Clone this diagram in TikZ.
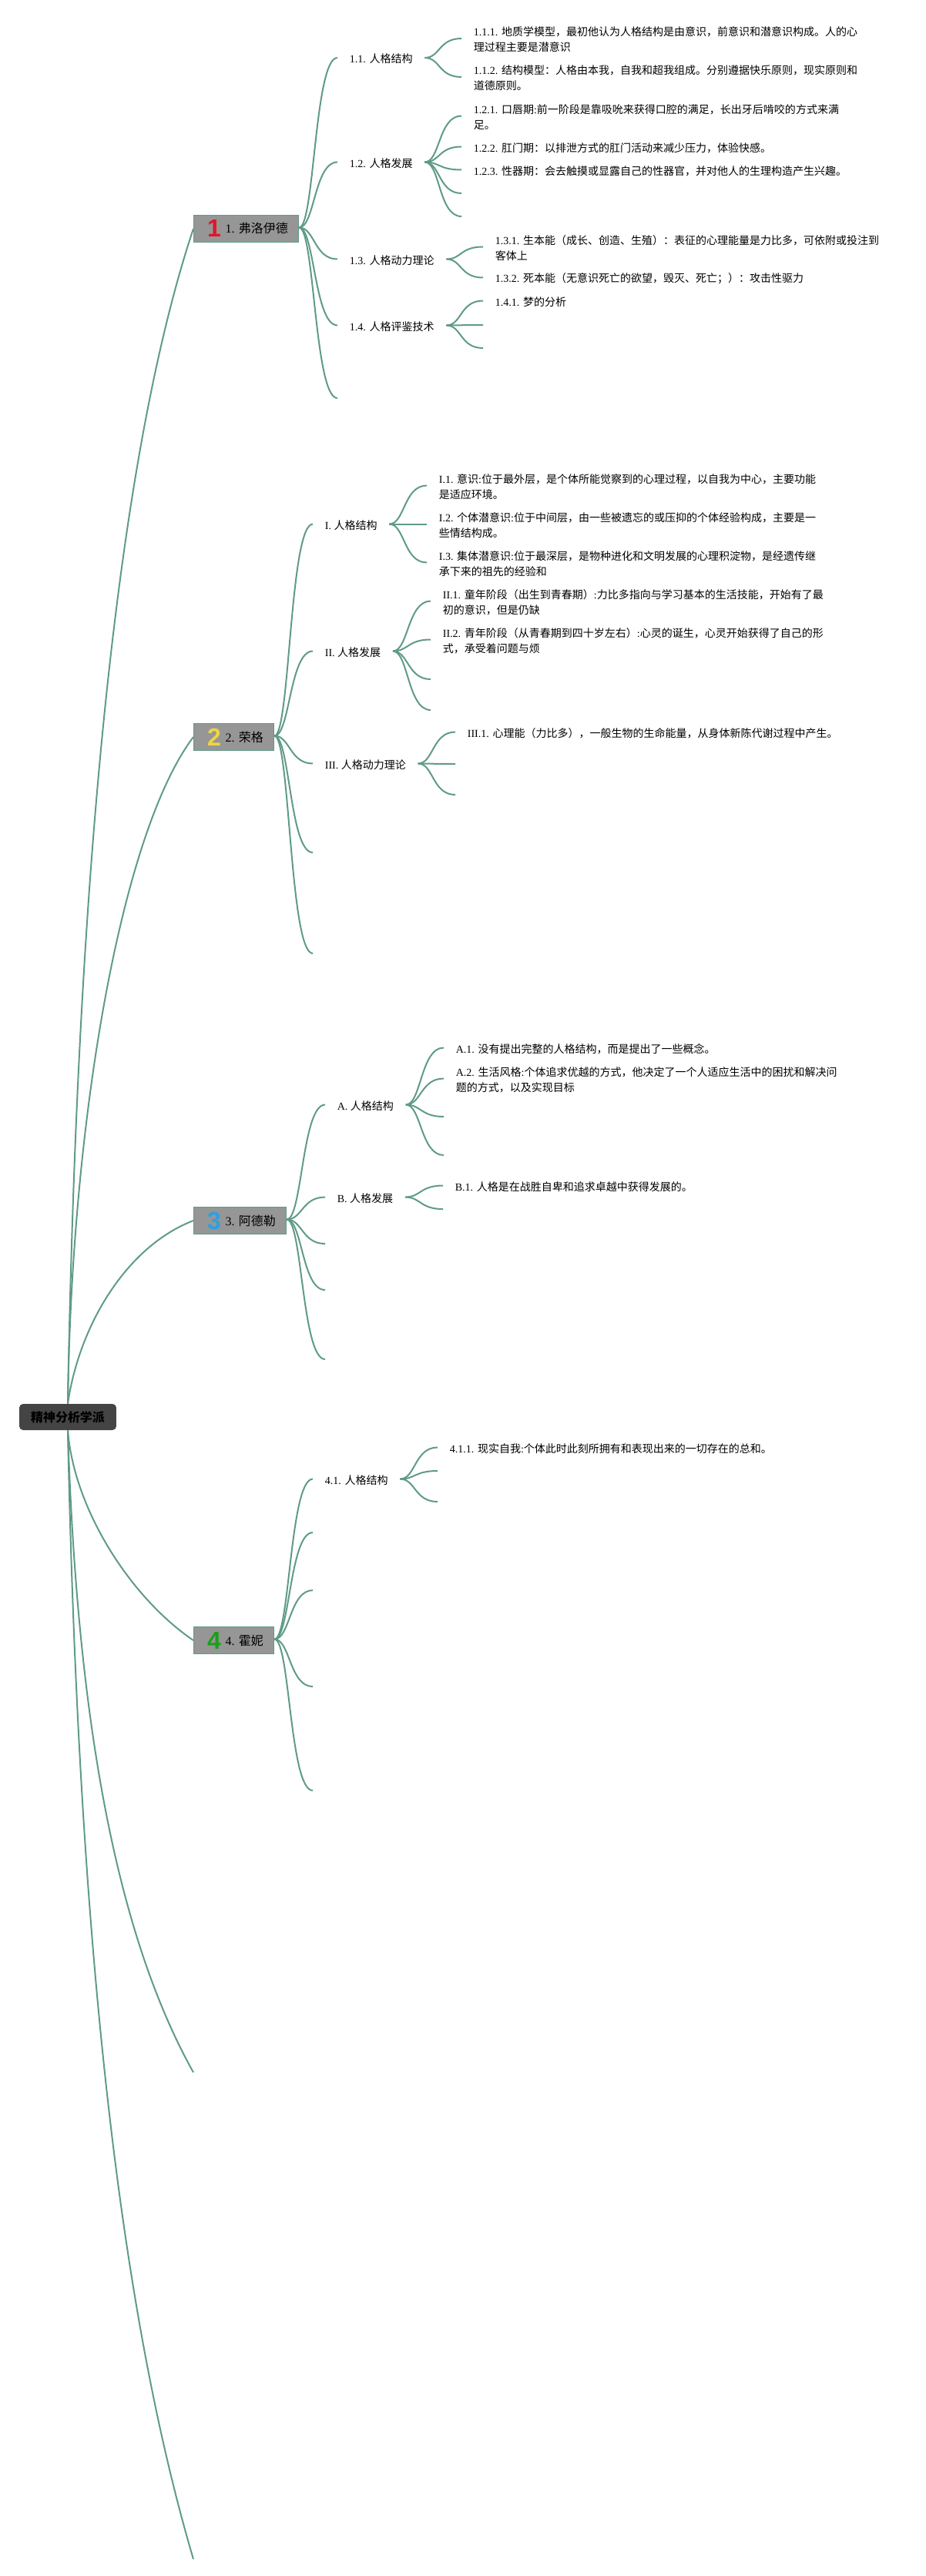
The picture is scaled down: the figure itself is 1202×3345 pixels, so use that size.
\documentclass[tikz,border=0pt]{standalone}
\usepackage{fontspec}
\usepackage{tikz}
\setmainfont{Liberation Serif}
\newfontfamily\cjk{Noto Sans CJK SC}
\newfontfamily\icofont{Liberation Sans}
\definecolor{linkgreen}{HTML}{5F9B87}
\definecolor{topicgray}{HTML}{969696}
\definecolor{rootgray}{HTML}{444444}
\definecolor{icored}{HTML}{E0162B}
\definecolor{icoyellow}{HTML}{EFD544}
\definecolor{icoblue}{HTML}{2BA0E6}
\definecolor{icogreen}{HTML}{1AA01A}
\tikzset{
  font={\fontsize{7.97pt}{11.4pt}\selectfont},
  linkline/.style={linkgreen,line width=.04cm},
  rootbox/.style={rectangle,rounded corners=.1cm,fill=rootgray,inner sep=0pt,minimum width=2.52cm,minimum height=.68cm,font={\fontsize{9.1pt}{12pt}\selectfont\bfseries}},
  topicbox/.style={rectangle,draw=linkgreen,fill=topicgray,line width=.6pt,anchor=west,inner xsep=.28cm,inner ysep=0pt,minimum height=.7cm,font={\fontsize{9.1pt}{12pt}\selectfont}},
  branchtext/.style={anchor=west,inner xsep=.31cm,inner ysep=0pt,align=left}}
\newcommand{\zh}[1]{{\cjk #1}}
\newcommand{\ico}[2]{\hspace{.08cm}\makebox[.34cm][c]{\raisebox{-.1cm}{\icofont\bfseries\fontsize{18.2pt}{18.2pt}\selectfont\textcolor{#1}{#2}}}\hspace{.12cm}}
\newcommand{\link}[2]{\draw [linkline] ([yshift=.03cm]#1.east) .. controls +(20,0) and +(-30,0) .. ([yshift=.03cm]#2.west);}
\newcommand{\stub}[2]{\draw [linkline] ([yshift=.03cm]#1.east) .. controls +(20,0) and +(-30,0) .. (#2);}

\begin{document}
\begin{tikzpicture}[x=0.02cm,y=0.02cm]
\useasboundingbox (0,0) rectangle (1202,-3345);
\node [rootbox] (root) at (88,-1840) {\zh{精神分析学派}};
\node [topicbox] (t1) at (251,-297) {\ico{icored}{1}1. \zh{弗洛伊德}};
\node [topicbox] (t2) at (251,-957) {\ico{icoyellow}{2}2. \zh{荣格}};
\node [topicbox] (t3) at (251,-1585) {\ico{icoblue}{3}3. \zh{阿德勒}};
\node [topicbox] (t4) at (251,-2130) {\ico{icogreen}{4}4. \zh{霍妮}};
\coordinate (t5) at (251,-2691);
\coordinate (t6) at (251,-3323);
\draw [linkline] (root.north) .. controls +(12,673) and +(-101,-303) .. (t1.west);
\draw [linkline] (root.north) .. controls +(5,373) and +(-93,-123) .. (t2.west);
\draw [linkline] (root.north) .. controls +(15,103) and +(-86,-33) .. (t3.west);
\draw [linkline] (root.south) .. controls +(8,-103) and +(-81,55) .. (t4.west);
\draw [linkline] (root.south) .. controls +(12,-373) and +(-101,181) .. (t5);
\draw [linkline] (root.south) .. controls +(14,-663) and +(-96,325) .. (t6);

\node [branchtext] (n11) at (438,-76.5) {1.1. \zh{人格结构}};
\node [branchtext] (n12) at (438,-212) {1.2. \zh{人格发展}};
\node [branchtext] (n13) at (438,-338) {1.3. \zh{人格动力理论}};
\node [branchtext] (n14) at (438,-424) {1.4. \zh{人格评鉴技术}};
\coordinate (n15) at (438,-517);
\link{t1}{n11}
\link{t1}{n12}
\link{t1}{n13}
\link{t1}{n14}
\stub{t1}{n15}
\node [branchtext] (n111) at (599,-51.5) {1.1.1. \zh{地质学模型，最初他认为人格结构是由意识，前意识和潜意识构成。人的心}\\\zh{理过程主要是潜意识}};
\node [branchtext] (n112) at (599,-101.5) {1.1.2. \zh{结构模型：人格由本我，自我和超我组成。分别遵据快乐原则，现实原则和}\\\zh{道德原则。}};
\link{n11}{n111}
\link{n11}{n112}
\node [branchtext] (n121) at (599,-152) {1.2.1. \zh{口唇期}:\zh{前一阶段是靠吸吮来获得口腔的满足，长出牙后啃咬的方式来满}\\\zh{足。}};
\node [branchtext] (n122) at (599,-192) {1.2.2. \zh{肛门期：以排泄方式的肛门活动来减少压力，体验快感。}};
\node [branchtext] (n123) at (599,-222) {1.2.3. \zh{性器期：会去触摸或显露自己的性器官，并对他人的生理构造产生兴趣。}};
\coordinate (n124) at (599,-251);
\coordinate (n125) at (599,-281);
\link{n12}{n121}
\link{n12}{n122}
\link{n12}{n123}
\stub{n12}{n124}
\stub{n12}{n125}
\node [branchtext] (n131) at (627,-322) {1.3.1. \zh{生本能（成长、创造、生殖）：表征的心理能量是力比多，可依附或投注到}\\\zh{客体上}};
\node [branchtext] (n132) at (627,-362) {1.3.2. \zh{死本能（无意识死亡的欲望，毁灭、死亡；）：攻击性驱力}};
\link{n13}{n131}
\link{n13}{n132}
\node [branchtext] (n141) at (627,-392) {1.4.1. \zh{梦的分析}};
\coordinate (n142) at (627,-422);
\coordinate (n143) at (627,-452);
\link{n14}{n141}
\stub{n14}{n142}
\stub{n14}{n143}

\node [branchtext] (m1) at (406,-682) {I. \zh{人格结构}};
\node [branchtext] (m2) at (406,-847) {II. \zh{人格发展}};
\node [branchtext] (m3) at (406,-993) {III. \zh{人格动力理论}};
\coordinate (m4) at (406,-1107);
\coordinate (m5) at (406,-1238);
\link{t2}{m1}
\link{t2}{m2}
\link{t2}{m3}
\stub{t2}{m4}
\stub{t2}{m5}
\node [branchtext] (m11) at (554,-632) {I.1. \zh{意识}:\zh{位于最外层，是个体所能觉察到的心理过程，以自我为中心，主要功能}\\\zh{是适应环境。}};
\node [branchtext] (m12) at (554,-682) {I.2. \zh{个体潜意识}:\zh{位于中间层，由一些被遗忘的或压抑的个体经验构成，主要是一}\\\zh{些情结构成。}};
\node [branchtext] (m13) at (554,-732) {I.3. \zh{集体潜意识}:\zh{位于最深层，是物种进化和文明发展的心理积淀物，是经遗传继}\\\zh{承下来的祖先的经验和}};
\link{m1}{m11}
\link{m1}{m12}
\link{m1}{m13}
\node [branchtext] (m21) at (559,-782) {II.1. \zh{童年阶段（出生到青春期）}:\zh{力比多指向与学习基本的生活技能，开始有了最}\\\zh{初的意识，但是仍缺}};
\node [branchtext] (m22) at (559,-832) {II.2. \zh{青年阶段（从青春期到四十岁左右）}:\zh{心灵的诞生，心灵开始获得了自己的形}\\\zh{式，承受着问题与烦}};
\coordinate (m23) at (559,-882);
\coordinate (m24) at (559,-922);
\link{m2}{m21}
\link{m2}{m22}
\stub{m2}{m23}
\stub{m2}{m24}
\node [branchtext] (m31) at (591,-952) {III.1. \zh{心理能（力比多），一般生物的生命能量，从身体新陈代谢过程中产生。}};
\coordinate (m32) at (591,-992);
\coordinate (m33) at (591,-1032);
\link{m3}{m31}
\stub{m3}{m32}
\stub{m3}{m33}

\node [branchtext] (a1) at (422,-1436) {A. \zh{人格结构}};
\node [branchtext] (a2) at (422,-1556) {B. \zh{人格发展}};
\coordinate (a3) at (422,-1615);
\coordinate (a4) at (422,-1675);
\coordinate (a5) at (422,-1765);
\link{t3}{a1}
\link{t3}{a2}
\stub{t3}{a3}
\stub{t3}{a4}
\stub{t3}{a5}
\node [branchtext] (a11) at (576,-1362) {A.1. \zh{没有提出完整的人格结构，而是提出了一些概念。}};
\node [branchtext] (a12) at (576,-1402) {A.2. \zh{生活风格}:\zh{个体追求优越的方式，他决定了一个人适应生活中的困扰和解决问}\\\zh{题的方式，以及实现目标}};
\coordinate (a13) at (576,-1450);
\coordinate (a14) at (576,-1500);
\link{a1}{a11}
\link{a1}{a12}
\stub{a1}{a13}
\stub{a1}{a14}
\node [branchtext] (a21) at (575,-1541) {B.1. \zh{人格是在战胜自卑和追求卓越中获得发展的。}};
\coordinate (a22) at (575,-1570);
\link{a2}{a21}
\stub{a2}{a22}

\node [branchtext] (h1) at (406,-1922) {4.1. \zh{人格结构}};
\coordinate (h2) at (406,-1990);
\coordinate (h3) at (406,-2065);
\coordinate (h4) at (406,-2190);
\coordinate (h5) at (406,-2325);
\link{t4}{h1}
\stub{t4}{h2}
\stub{t4}{h3}
\stub{t4}{h4}
\stub{t4}{h5}
\node [branchtext] (h11) at (568,-1881) {4.1.1. \zh{现实自我}:\zh{个体此时此刻所拥有和表现出来的一切存在的总和。}};
\coordinate (h12) at (568,-1910);
\coordinate (h13) at (568,-1950);
\link{h1}{h11}
\stub{h1}{h12}
\stub{h1}{h13}
\end{tikzpicture}
\end{document}
